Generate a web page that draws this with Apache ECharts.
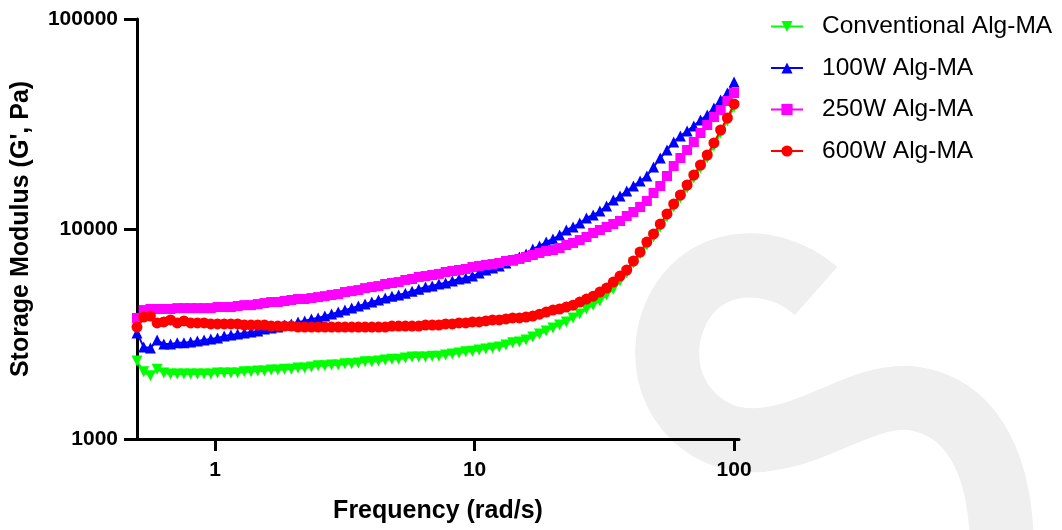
<!DOCTYPE html>
<html><head><meta charset="utf-8">
<script src="https://cdn.jsdelivr.net/npm/echarts@6/dist/echarts.min.js"></script>
<style>html,body{margin:0;padding:0;background:#fff}#c{width:1062px;height:530px}</style>
</head><body><div id="c"></div>
<script>
// Angular frequency (rad/s)
const frequency = [0.5,0.5307,0.5632,0.5977,0.6344,0.6733,0.7146,0.7584,0.8049,0.8543,
  0.9067,0.9624,1.0215,1.0841,1.1506,1.2212,1.2961,1.3756,1.46,1.5496,
  1.6446,1.7455,1.8526,1.9662,2.0868,2.2149,2.3507,2.4949,2.648,2.8104,
  2.9828,3.1658,3.36,3.5661,3.7849,4.0171,4.2635,4.5251,4.8026,5.0972,
  5.4099,5.7418,6.094,6.4679,6.8647,7.2858,7.7327,8.2071,8.7106,9.245,
  9.8103,10.412,11.051,11.729,12.448,13.212,14.022,14.882,15.795,16.764,
  17.793,18.884,20.043,21.272,22.577,23.962,25.432,26.992,28.648,30.406,
  32.271,34.251,36.352,38.582,40.949,43.461,46.128,48.957,51.961,55.149,
  58.532,62.123,65.934,69.979,74.272,78.829,83.665,88.797,94.245,100];

const conventional = [2350,2090,2000,2150,2060,2040,2040,2040,2040,2040,
  2040,2040,2060,2060,2060,2060,2090,2090,2110,2110,
  2130,2130,2150,2150,2180,2180,2200,2230,2230,2250,
  2250,2280,2280,2300,2330,2330,2350,2380,2400,2400,
  2430,2460,2460,2460,2480,2480,2510,2540,2570,2600,
  2620,2650,2680,2710,2740,2800,2870,2900,2960,3060,
  3160,3270,3380,3490,3610,3770,3940,4160,4340,4540,
  4850,5170,5650,6170,6890,7600,8390,9160,10220,11400,
  12730,14050,15680,17490,19520,21780,24840,28650,32680,38100];

const w100 = [3200,2740,2710,2960,2830,2830,2870,2870,2900,2930,
  2960,2990,3030,3090,3130,3160,3200,3230,3270,3340,
  3380,3410,3490,3530,3610,3650,3730,3770,3850,3935,
  4020,4110,4200,4300,4390,4490,4590,4690,4790,4850,
  4950,5060,5170,5290,5350,5470,5530,5650,5780,5840,
  5970,6170,6380,6520,6670,6890,7120,7360,7600,8030,
  8300,8670,8960,9360,9890,10220,10680,11280,11660,12180,
  12870,13740,14360,15170,16020,16930,17880,19730,21780,23780,
  25960,27720,29290,30940,33040,34900,37690,41140,44420,50120];

const w250 = [3770,4110,4160,4160,4160,4160,4200,4200,4200,4200,
  4200,4200,4250,4250,4250,4300,4340,4340,4390,4440,
  4490,4490,4540,4590,4640,4640,4690,4740,4790,4850,
  4900,5010,5060,5120,5230,5290,5350,5470,5530,5590,
  5720,5780,5910,5970,6040,6110,6240,6310,6380,6450,
  6590,6670,6740,6810,6890,7040,7120,7200,7360,7520,
  7690,7860,7940,8120,8390,8580,8860,9160,9570,9890,
  10220,10560,10920,11530,12050,12730,13590,14840,16020,17880,
  19950,21780,23780,25960,28650,31280,34140,36870,40690,44420];

const w600 = [3410,3810,3850,3570,3610,3690,3570,3650,3570,3570,
  3570,3530,3530,3530,3530,3530,3490,3490,3490,3490,
  3450,3450,3450,3450,3410,3410,3410,3410,3410,3410,
  3410,3410,3410,3410,3410,3410,3410,3410,3450,3450,
  3450,3450,3450,3490,3490,3490,3530,3530,3570,3570,
  3610,3610,3650,3690,3690,3730,3770,3770,3810,3850,
  3930,4020,4110,4160,4250,4340,4490,4640,4790,5010,
  5230,5590,5970,6380,7040,7770,8670,9470,10560,11790,
  13150,14520,16200,18080,20170,22510,25680,29610,33770,39380];

const seriesNames = ['Conventional Alg-MA','100W Alg-MA','250W Alg-MA','600W Alg-MA'];
const xTicks = [1, 10, 100];
const yTicks = [1000, 10000, 100000];
const xTitle = 'Frequency (rad/s)';
const yTitle = "Storage Modulus (G', Pa)";

const FONT = 'Liberation Sans, Arial, sans-serif';
const chart = echarts.init(document.getElementById('c'), null, {renderer: 'canvas'});
const pairs = ys => frequency.map((f, i) => [f, ys[i]]);

const styles = [
  {color: '#00ff00', symbol: 'triangle', size: 11, rotate: 180},
  {color: '#0000ff', symbol: 'triangle', size: 11, rotate: 0},
  {color: '#ff00ff', symbol: 'rect', size: 10, rotate: 0},
  {color: '#ff0000', symbol: 'circle', size: 11, rotate: 0}
];
const allData = [conventional, w100, w250, w600];

const axisCommon = {
  type: 'log', logBase: 10,
  nameLocation: 'middle',
  nameTextStyle: {fontFamily: FONT, fontWeight: 'bold', fontSize: 25, color: '#000'},
  axisLine: {show: true, onZero: false, lineStyle: {color: '#000', width: 3}},
  splitLine: {show: false},
  minorTick: {show: false},
  minorSplitLine: {show: false}
};

// decorative watermark (background only)
const wm = (x1, y1, c1x, c1y, c2x, c2y, x2, y2, cap) => ({
  type: 'bezierCurve', z: -10, silent: true,
  shape: {x1, y1, cpx1: c1x, cpy1: c1y, cpx2: c2x, cpy2: c2y, x2, y2},
  style: {fill: null, stroke: '#efefef', lineWidth: 64, lineCap: cap || 'butt'}
});

chart.setOption({
  animation: false,
  backgroundColor: '#ffffff',
  graphic: [
    wm(816, 291, 770, 250, 690, 255, 670, 330),
    wm(670, 330, 655, 390, 700, 445, 760, 440, 'round'),
    wm(760, 440, 820, 435, 860, 395, 910, 398, 'round'),
    wm(910, 398, 970, 405, 1000, 460, 1002, 545)
  ],
  grid: {left: 137, right: 323, top: 19, bottom: 91, containLabel: false},
  legend: {
    orient: 'vertical', left: 765, top: 9,
    itemWidth: 32, itemHeight: 14, itemGap: 16.5,
    textStyle: {fontFamily: FONT, fontSize: 24.5, color: '#000', padding: [0, 0, 0, 14]},
    data: seriesNames
  },
  xAxis: Object.assign({}, axisCommon, {
    min: 0.5, max: 104.5,
    name: xTitle, nameGap: 60,
    axisTick: {show: true, customValues: xTicks, length: 12, lineStyle: {color: '#000', width: 3}},
    axisLabel: {customValues: xTicks, formatter: v => String(Math.round(v)), margin: 21,
      fontFamily: FONT, fontWeight: 'bold', fontSize: 21, color: '#000'}
  }),
  yAxis: Object.assign({}, axisCommon, {
    min: 1000, max: 100000,
    name: yTitle, nameGap: 103, nameRotate: 90,
    axisTick: {show: true, customValues: yTicks, length: 13, lineStyle: {color: '#000', width: 3}},
    axisLabel: {customValues: yTicks, formatter: v => String(Math.round(v)), margin: 19,
      fontFamily: FONT, fontWeight: 'bold', fontSize: 21, color: '#000'}
  }),
  series: seriesNames.map((name, k) => ({
    name, type: 'line',
    data: pairs(allData[k]),
    symbol: styles[k].symbol, symbolSize: styles[k].size, symbolRotate: styles[k].rotate,
    showAllSymbol: true,
    itemStyle: {color: styles[k].color},
    lineStyle: {color: styles[k].color, width: 2},
    emphasis: {disabled: true},
    z: 2 + k
  }))
});
</script></body></html>
